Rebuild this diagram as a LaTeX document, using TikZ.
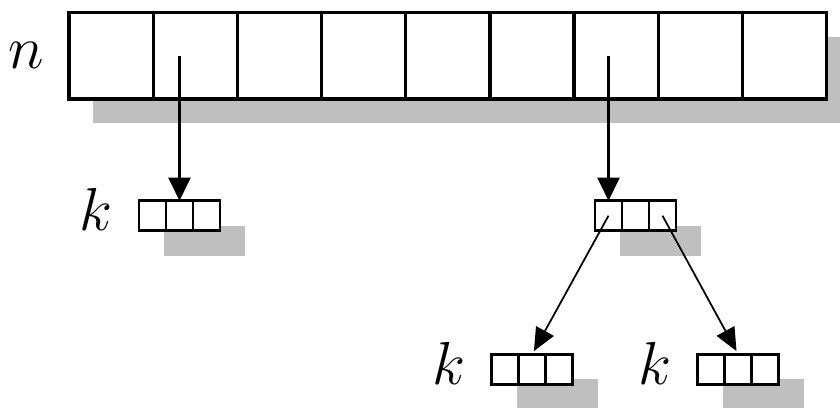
\documentclass[tikz,border=0pt]{standalone}
\usetikzlibrary{arrows.meta, positioning, backgrounds}

\begin{document}
\begin{tikzpicture}[
    font=\fontsize{18}{20}\selectfont,
    bigcell/.style={draw, fill=white, line width=0.95pt, minimum width=0.8417cm,
                    minimum height=0.865cm, inner sep=0pt, outer sep=0pt},
    cell/.style={draw, fill=white, line width=0.75pt, minimum width=0.27cm,
                 minimum height=0.30cm, inner sep=0pt, outer sep=0pt},
    shadowfill/.style={fill=black!25},
    lab/.style={inner sep=0pt},
    ptr/.style={-{Triangle[length=0.23cm, width=0.22cm]}, line width=0.65pt},
    thinptr/.style={-{Triangle[length=0.23cm, width=0.2cm]}, line width=0.5pt},
]
    \path[use as bounding box] (0,0) rectangle (8.4,-4.07);

    %==================== top table, n slots ====================
    \node[bigcell, anchor=west] (n1) at (0.69,-0.5575) {};
    \foreach \i [count=\j from 2] in {1,...,8}
        \node[bigcell, right=0pt of n\i] (n\j) {};
    \node[lab, left=0.24cm of n1] (nlab) {$n$};

    %==================== buckets, k slots each ====================
    \foreach \a/\x/\y in {a1/1.39/-2.157, a2/5.95/-2.157,
                          a3/4.917/-3.692, a4/6.977/-3.692} {
        \node[cell, anchor=west] (\a-1) at (\x,\y) {};
        \node[cell, right=0pt of \a-1] (\a-2) {};
        \node[cell, right=0pt of \a-2] (\a-3) {};
    }
    \foreach \a in {a1,a3,a4}
        \node[lab, anchor=base east] (\a-lab) at ([xshift=-0.26cm]\a-1.south west) {$k$};

    % drop shadows behind the tables
    \begin{scope}[on background layer]
        \fill[shadowfill] ([shift={(0.24,-0.24)}]n1.north west)
            rectangle ([shift={(0.24,-0.24)}]n9.south east);
        \foreach \a in {a1,a2,a3,a4}
            \fill[shadowfill] ([shift={(0.25,-0.25)}]\a-1.north west)
                rectangle ([shift={(0.25,-0.25)}]\a-3.south east);
    \end{scope}

    %==================== pointers ====================
    \draw[ptr] (n2.center -| a1-2.north) -- (a1-2.north);
    \draw[ptr] (n7.center -| a2-1.north) -- (a2-1.north);
    \draw[thinptr, shorten >=1pt] (a2-1.center) -- (a3-2.north);
    \draw[thinptr, shorten >=1pt] (a2-3.center) -- (a4-2.north);

\end{tikzpicture}
\end{document}
